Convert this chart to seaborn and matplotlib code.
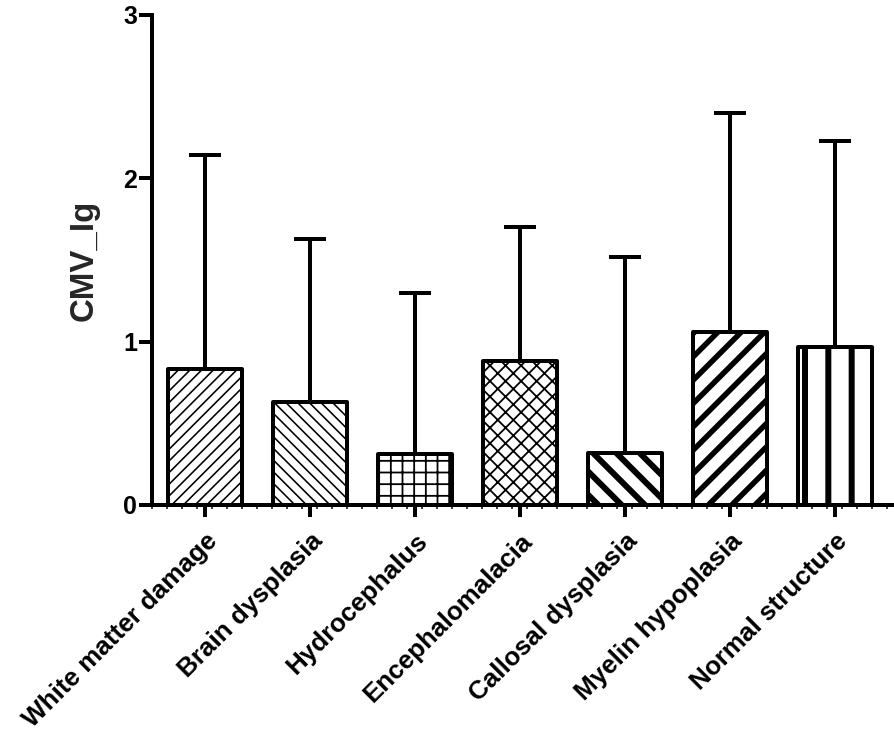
import numpy as np
import pandas as pd
import matplotlib
matplotlib.use("Agg")
import matplotlib.pyplot as plt
from matplotlib.ticker import FixedLocator
import seaborn as sns

# values
categories = ["White matter damage", "Brain dysplasia", "Hydrocephalus",
              "Encephalomalacia", "Callosal dysplasia", "Myelin hypoplasia",
              "Normal structure"]
means = [0.83, 0.63, 0.31, 0.88, 0.32, 1.06, 0.97]
upper = [2.14, 1.63, 1.30, 1.70, 1.52, 2.40, 2.23]
y_ticks = [0, 1, 2, 3]

DPI = 140


def px(v):
    # pixels -> points at the figure dpi
    return v * 72 / DPI


hatches = ["////", "\\\\\\\\", "++", "xxx", "\\\\", "//", "|"]
hatch_lw = [px(1.6), px(1.6), px(1.8), px(1.8), px(6), px(5.5), px(6)]

df = pd.DataFrame({"group": categories, "CMV_Ig": means})

sns.set_style("white")
plt.rcParams["font.family"] = ["Liberation Sans", "DejaVu Sans"]
plt.rcParams["font.weight"] = "bold"

fig = plt.figure(figsize=(894 / DPI, 737 / DPI), dpi=DPI)
ax = fig.add_axes([152 / 894, 232 / 737, 741 / 894, 490 / 737])

sns.barplot(data=df, x="group", y="CMV_Ig", color="white", edgecolor="black",
            linewidth=px(4), width=0.7, errorbar=None, ax=ax)

for p, h, lw in zip(ax.patches, hatches, hatch_lw):
    p.set_hatch(h)
    p.set_joinstyle("round")
    if hasattr(p, "set_hatch_linewidth"):
        p.set_hatch_linewidth(lw)
    else:
        p._hatch_linewidth = lw

err = np.array(upper) - np.array(means)
ax.errorbar(np.arange(len(means)), means, yerr=[np.zeros(len(means)), err],
            fmt="none", ecolor="black", elinewidth=px(4), capsize=px(16),
            capthick=px(4), zorder=1)

ax.set_xlim(-0.505, 6.552)
ax.set_ylim(0, 3)
ax.set_yticks(y_ticks)
ax.set_yticklabels([str(t) for t in y_ticks], fontsize=px(25), fontweight="bold")
ax.set_xticks(range(len(categories)))
ax.set_xticklabels(categories, rotation=45, ha="right", rotation_mode="anchor",
                   fontsize=px(26), fontweight="bold")
ax.xaxis.set_minor_locator(FixedLocator(np.arange(-0.505, 6.552, 1 / 7)))

sns.despine(ax=ax)
for s in ["left", "bottom"]:
    ax.spines[s].set_linewidth(px(4))
    ax.spines[s].set_color("black")

ax.tick_params(axis="y", which="major", direction="out", length=px(13),
               width=px(4), pad=px(2), colors="black", left=True)
ax.tick_params(axis="x", which="major", direction="out", length=px(12),
               width=px(4), pad=px(12), colors="black", bottom=True)
ax.tick_params(axis="x", which="minor", direction="out", length=px(4),
               width=px(1.5), colors="black", bottom=True)

ax.set_xlabel("")
ax.set_ylabel("CMV_Ig", fontsize=px(33), fontweight="bold")
ax.yaxis.set_label_coords((100 - 152) / 741, 0.5)

fig.savefig("out.png", dpi=DPI)
